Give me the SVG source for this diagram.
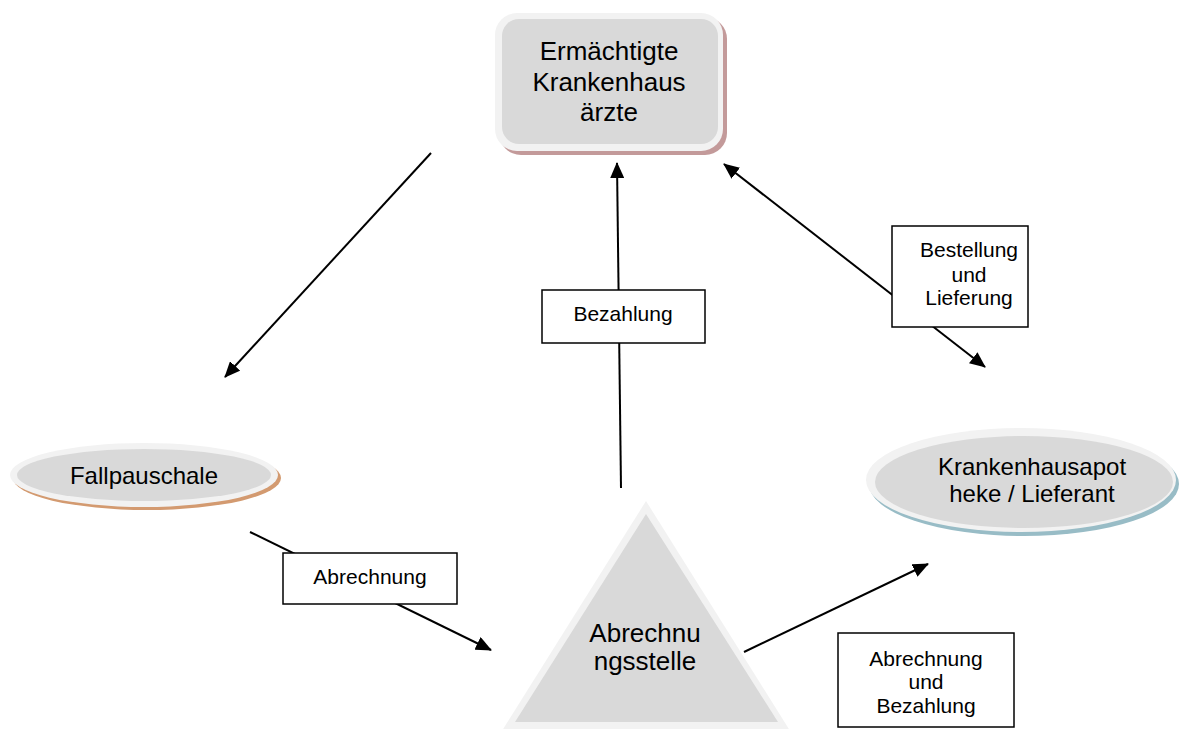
<svg xmlns="http://www.w3.org/2000/svg" width="1187" height="729" viewBox="0 0 1187 729">
  <defs>
    <style>
      .t { font-family: "Liberation Sans", Arial, sans-serif; fill: #000; text-anchor: middle; }
      .big { font-size: 26px; }
      .mid { font-size: 24px; }
      .lbl { font-size: 21px; }
      .outer { fill: #f2f2f2; }
      .inner { fill: #d9d9d9; }
      .box { fill: #fff; stroke: #000; stroke-width: 1.5; }
      .conn { stroke: #000; stroke-width: 2; fill: none; }
    </style>
    <marker id="arr" markerUnits="userSpaceOnUse" markerWidth="16" markerHeight="14" refX="15" refY="7" orient="auto-start-reverse" viewBox="0 0 16 14">
      <path d="M0,0 L16,7 L0,14 z" fill="#000"/>
    </marker>
    <clipPath id="clipAB">
      <rect x="838" y="633" width="176" height="84"/>
    </clipPath>
  </defs>

  <g id="node-aerzte">
    <rect x="499" y="17" width="228" height="138" rx="22" fill="#c39a9a"/>
    <rect x="495" y="13" width="228" height="138" rx="22" class="outer"/>
    <rect x="502" y="19" width="216" height="125" rx="17" class="inner"/>
    <text class="t big" x="609" y="60">Ermächtigte</text>
    <text class="t big" x="609" y="91">Krankenhaus</text>
    <text class="t big" x="609" y="121">ärzte</text>
  </g>

  <g id="node-fallpauschale">
    <ellipse cx="147" cy="478" rx="134" ry="32" fill="#d39a70"/>
    <ellipse cx="144" cy="475" rx="134" ry="32" class="outer"/>
    <ellipse cx="144" cy="475" rx="127" ry="26" class="inner"/>
    <text class="t mid" x="144" y="484">Fallpauschale</text>
  </g>

  <g id="node-apotheke">
    <ellipse cx="1024" cy="484" rx="155" ry="52" fill="#98bcc6"/>
    <ellipse cx="1021" cy="480" rx="155" ry="52" class="outer"/>
    <ellipse cx="1024" cy="482" rx="149" ry="46" class="inner"/>
    <text class="t mid" x="1032" y="475">Krankenhausapot</text>
    <text class="t mid" x="1032" y="502">heke / Lieferant</text>
  </g>

  <g id="node-abrechnungsstelle">
    <polygon points="646,501 500,734 792,734" class="outer"/>
    <polygon points="646,514 515,722 778,722" class="inner"/>
    <text class="t big" x="645" y="642">Abrechnu</text>
    <text class="t big" x="645" y="670">ngsstelle</text>
  </g>

  <g id="connectors">
    <line class="conn" x1="431" y1="153" x2="225" y2="377" marker-end="url(#arr)"/>
    <line class="conn" x1="621" y1="488" x2="617" y2="163" marker-end="url(#arr)"/>
    <line class="conn" x1="724" y1="164" x2="985" y2="367" marker-start="url(#arr)" marker-end="url(#arr)"/>
    <line class="conn" x1="250" y1="532" x2="491" y2="650" marker-end="url(#arr)"/>
    <line class="conn" x1="744" y1="652" x2="928" y2="564" marker-end="url(#arr)"/>
  </g>

  <g id="label-bezahlung">
    <rect x="542" y="290" width="163" height="53" class="box"/>
    <text class="t lbl" x="623" y="321">Bezahlung</text>
  </g>

  <g id="label-abrechnung">
    <rect x="283" y="553" width="174" height="51" class="box"/>
    <text class="t lbl" x="370" y="584">Abrechnung</text>
  </g>

  <g id="label-bestellung">
    <rect x="892" y="226" width="136" height="101" class="box"/>
    <text class="t lbl" x="969" y="257">Bestellung</text>
    <text class="t lbl" x="969" y="282">und</text>
    <text class="t lbl" x="969" y="305">Lieferung</text>
  </g>

  <g id="label-abrechnung-bezahlung">
    <rect x="838" y="633" width="176" height="94" class="box"/>
    <g clip-path="url(#clipAB)">
      <text class="t lbl" x="926" y="666">Abrechnung</text>
      <text class="t lbl" x="926" y="689">und</text>
      <text class="t lbl" x="926" y="713">Bezahlung</text>
    </g>
  </g>
</svg>
